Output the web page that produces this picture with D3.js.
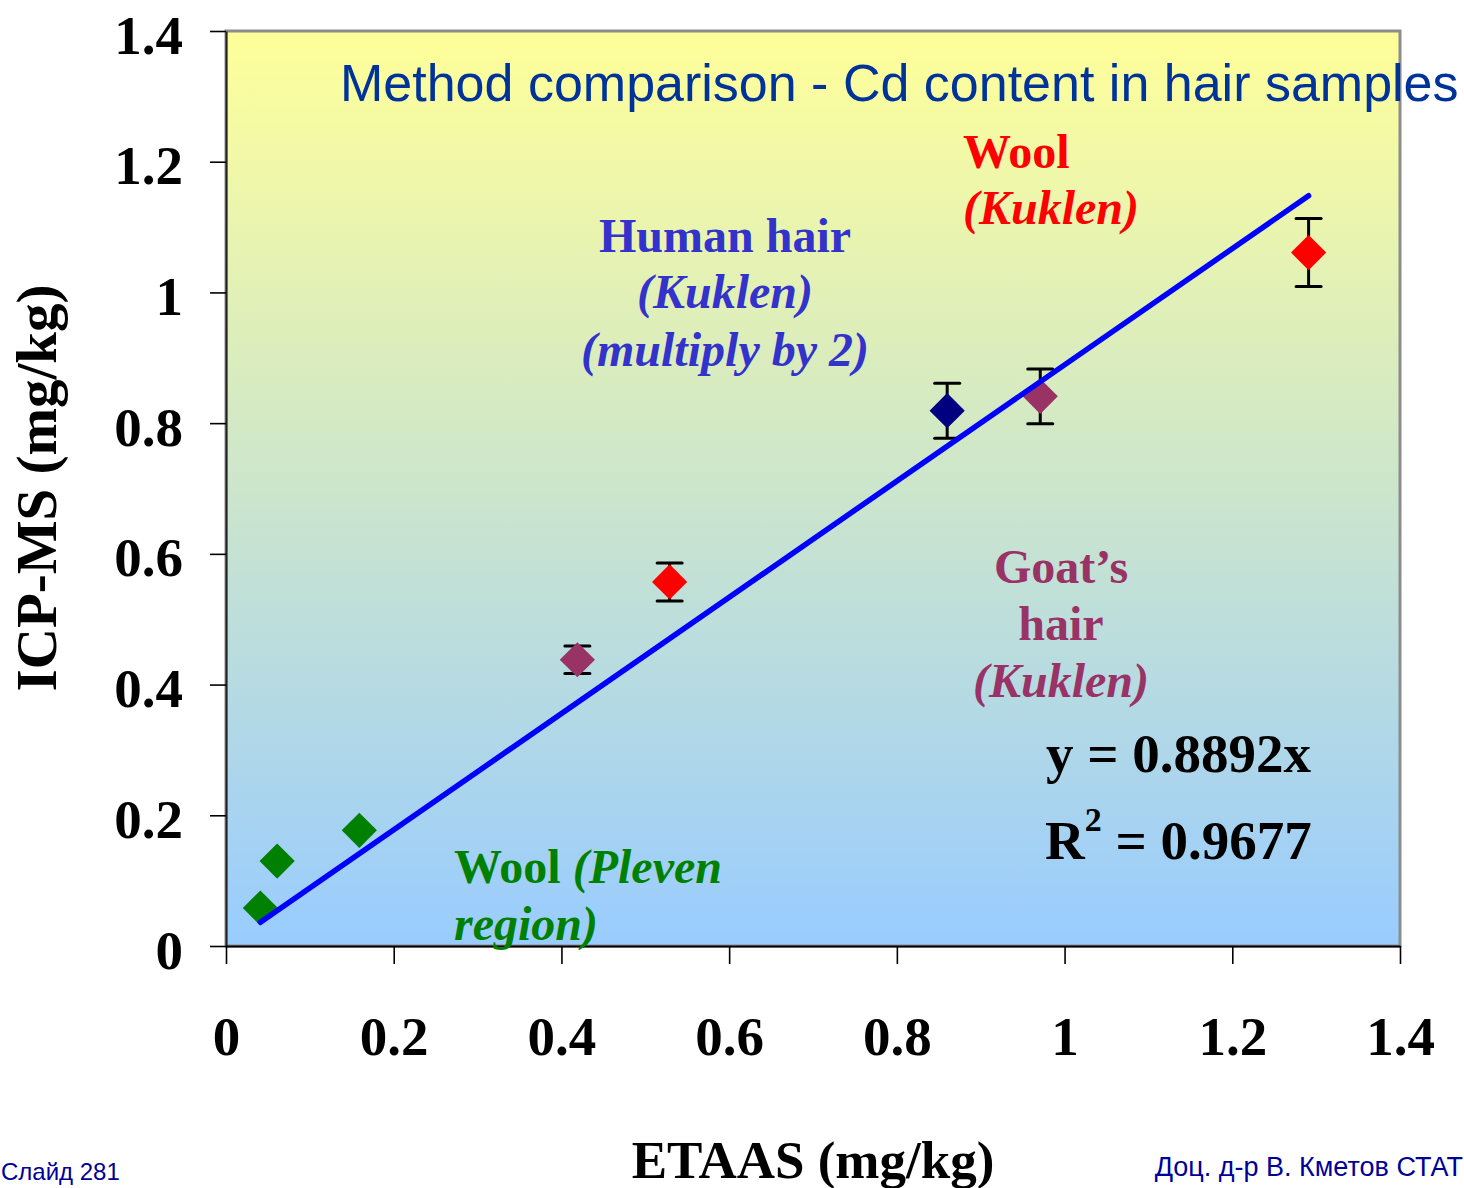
<!DOCTYPE html>
<html>
<head>
<meta charset="utf-8">
<script src="https://cdn.jsdelivr.net/npm/d3@7"></script>
<style>
  html, body { margin: 0; padding: 0; background: #ffffff; overflow: hidden; }
  svg { display: block; }
</style>
</head>
<body>
<svg id="chart" width="1464" height="1188"></svg>
<script>
// ---------- data ----------
const etaas  = [0.041, 0.061, 0.159, 0.419, 0.529, 0.860, 0.971, 1.291];
const icpms  = [0.058, 0.130, 0.177, 0.438, 0.557, 0.819, 0.841, 1.061];
const errors = [0, 0, 0, 0.021, 0.029, 0.042, 0.042, 0.052];
const groups = ["woolPleven", "woolPleven", "woolPleven", "goat", "woolKuklen", "human", "goat", "woolKuklen"];
const groupColors = { woolPleven: "#008000", goat: "#993366", woolKuklen: "#ff0000", human: "#000080" };
const slope = 0.8892;
const r2 = "0.9677";
const xTicks = [0, 0.2, 0.4, 0.6, 0.8, 1, 1.2, 1.4];
const yTicks = [0, 0.2, 0.4, 0.6, 0.8, 1, 1.2, 1.4];
const xTickLabels = ["0", "0.2", "0.4", "0.6", "0.8", "1", "1.2", "1.4"];
const yTickLabels = ["0", "0.2", "0.4", "0.6", "0.8", "1", "1.2", "1.4"];

// ---------- layout ----------
const serif = "'Liberation Serif', 'Times New Roman', Times, serif";
const sans = "'Liberation Sans', Arial, Helvetica, sans-serif";
const svg = d3.select("#chart");
const x = d3.scaleLinear().domain([0, 1.4]).range([226, 1400]);
const y = d3.scaleLinear().domain([0, 1.4]).range([946, 31]);

// background gradient
const defs = svg.append("defs");
const grad = defs.append("linearGradient").attr("id", "bg")
  .attr("x1", 0).attr("y1", 0).attr("x2", 0).attr("y2", 1);
grad.append("stop").attr("offset", "0%").attr("stop-color", "#ffff99");
grad.append("stop").attr("offset", "100%").attr("stop-color", "#99ccff");

svg.append("rect")
  .attr("x", x(0)).attr("y", y(1.4))
  .attr("width", x(1.4) - x(0)).attr("height", y(0) - y(1.4))
  .attr("fill", "url(#bg)")
  .attr("stroke", "#8c8c8c").attr("stroke-width", 3);

// axes
const yAxis = d3.axisLeft(y).tickValues(yTicks)
  .tickFormat((d, i) => yTickLabels[i]).tickSize(16).tickSizeOuter(0).tickPadding(27);
const gy = svg.append("g").attr("transform", `translate(${x(0)},0)`).call(yAxis);
gy.select(".domain").attr("stroke", "#222").attr("stroke-width", 2);
gy.selectAll(".tick line").attr("stroke", "#000").attr("stroke-width", 1.6);
gy.selectAll(".tick text")
  .attr("dy", 22)
  .attr("fill", "#000")
  .style("font-family", serif).style("font-weight", "bold").style("font-size", "55px");

const xAxis = d3.axisBottom(x).tickValues(xTicks)
  .tickFormat((d, i) => xTickLabels[i]).tickSize(18).tickSizeOuter(0);
const gx = svg.append("g").attr("transform", `translate(0,${y(0)})`).call(xAxis);
gx.select(".domain").attr("stroke", "#000").attr("stroke-width", 2);
gx.selectAll(".tick line").attr("stroke", "#000").attr("stroke-width", 1.6);
gx.selectAll(".tick text")
  .attr("y", 109).attr("dy", null)
  .attr("fill", "#000")
  .style("font-family", serif).style("font-weight", "bold").style("font-size", "55px");

// axis titles
svg.append("text")
  .attr("x", 813).attr("y", 1178)
  .attr("text-anchor", "middle")
  .style("font-family", serif).style("font-weight", "bold").style("font-size", "53px")
  .text("ETAAS (mg/kg)");

svg.append("text")
  .attr("transform", "translate(56,488) rotate(-90)")
  .attr("text-anchor", "middle")
  .style("font-family", serif).style("font-weight", "bold").style("font-size", "57px")
  .text("ICP-MS (mg/kg)");

// data
const pts = etaas.map((v, i) => ({ x: v, y: icpms[i], e: errors[i], g: groups[i] }));

// error bars
const eb = svg.append("g").attr("stroke", "#000").attr("stroke-width", 3);
pts.filter(d => d.e > 0).forEach(d => {
  eb.append("line").attr("x1", x(d.x)).attr("x2", x(d.x))
    .attr("y1", y(d.y + d.e)).attr("y2", y(d.y - d.e));
  eb.append("line").attr("x1", x(d.x) - 12.5).attr("x2", x(d.x) + 12.5)
    .attr("y1", y(d.y + d.e)).attr("y2", y(d.y + d.e)).attr("stroke-linecap", "round");
  eb.append("line").attr("x1", x(d.x) - 12.5).attr("x2", x(d.x) + 12.5)
    .attr("y1", y(d.y - d.e)).attr("y2", y(d.y - d.e)).attr("stroke-linecap", "round");
});

// markers (diamonds)
const diamond = d3.symbol().type(d3.symbolSquare).size(620);
svg.append("g").selectAll("path").data(pts).join("path")
  .attr("d", diamond)
  .attr("transform", d => `translate(${x(d.x)},${y(d.y)}) rotate(45)`)
  .attr("fill", d => groupColors[d.g]);

// trend line
const xMin = d3.min(etaas), xMax = d3.max(etaas);
svg.append("path")
  .datum([xMin, xMax])
  .attr("d", d3.line().x(d => x(d)).y(d => y(slope * d)))
  .attr("stroke", "#0000ff").attr("stroke-width", 5.5)
  .attr("stroke-linecap", "round").attr("fill", "none");

// title
svg.append("text")
  .attr("x", 340).attr("y", 101)
  .attr("fill", "#003399")
  .style("font-family", sans).style("font-size", "52px")
  .text("Method comparison - Cd content in hair samples");

// annotations
function ann(lines, xPos, anchor, color, size) {
  const t = svg.append("text").attr("text-anchor", anchor).attr("fill", color)
    .style("font-family", serif).style("font-weight", "bold").style("font-size", size + "px");
  lines.forEach(l => {
    const ts = t.append("tspan").attr("x", xPos).attr("y", l.y);
    l.parts.forEach(p => {
      ts.append("tspan").style("font-style", p.italic ? "italic" : "normal").text(p.t);
    });
  });
  return t;
}

ann([
  { y: 252, parts: [{ t: "Human hair" }] },
  { y: 308, parts: [{ t: "(Kuklen)", italic: true }] },
  { y: 366, parts: [{ t: "(multiply by 2)", italic: true }] }
], 725, "middle", "#3333cc", 48);

ann([
  { y: 168, parts: [{ t: "Wool" }] },
  { y: 224, parts: [{ t: "(Kuklen)", italic: true }] }
], 963, "start", "#ff0000", 48);

ann([
  { y: 583, parts: [{ t: "Goat\u2019s" }] },
  { y: 640, parts: [{ t: "hair" }] },
  { y: 697, parts: [{ t: "(Kuklen)", italic: true }] }
], 1061, "middle", "#993366", 48);

ann([
  { y: 883, parts: [{ t: "Wool " }, { t: "(Pleven", italic: true }] },
  { y: 940, parts: [{ t: "region)", italic: true }] }
], 454, "start", "#008000", 48);

// equation
svg.append("text")
  .attr("x", 1046).attr("y", 772)
  .attr("fill", "#000")
  .style("font-family", serif).style("font-weight", "bold").style("font-size", "55px")
  .text(`y = ${slope}x`);

const r2t = svg.append("text")
  .attr("x", 1045).attr("y", 859)
  .attr("fill", "#000")
  .style("font-family", serif).style("font-weight", "bold").style("font-size", "55px");
r2t.append("tspan").text("R");
r2t.append("tspan").attr("dy", -28).style("font-size", "34px").text("2");
r2t.append("tspan").attr("dy", 28).text(` = ${r2}`);

// footer
svg.append("text")
  .attr("x", 1).attr("y", 1180).attr("text-anchor", "start")
  .attr("fill", "#000099")
  .style("font-family", sans).style("font-size", "24px")
  .text("Слайд 281");
svg.append("text")
  .attr("x", 1463).attr("y", 1176).attr("text-anchor", "end")
  .attr("fill", "#000099")
  .style("font-family", sans).style("font-size", "27px")
  .text("Доц. д-р В. Кметов СТАТ");
</script>
</body>
</html>
